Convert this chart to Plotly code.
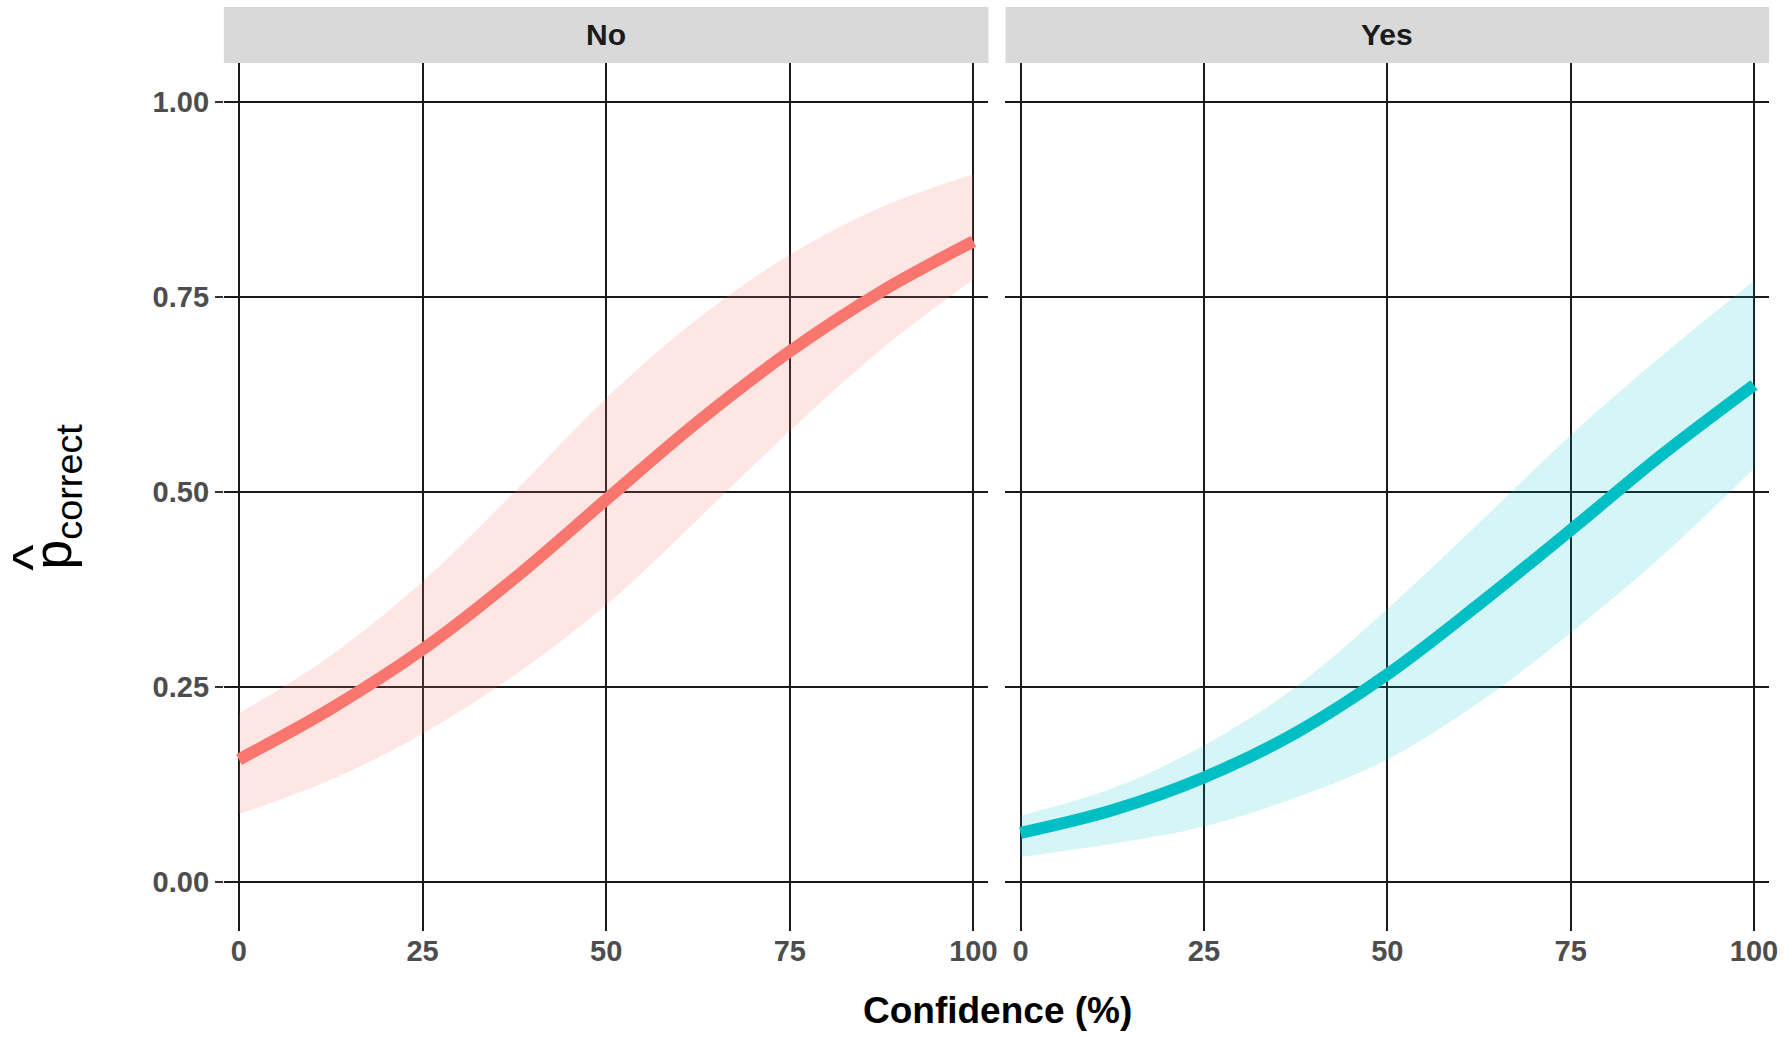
import plotly.graph_objects as go

# ---- data ----
confidence = [0, 12.5, 25, 37.5, 50, 62.5, 75, 87.5, 100]

no_fit = [0.157, 0.222, 0.298, 0.389, 0.490, 0.590, 0.680, 0.757, 0.821]
no_upper = [0.216, 0.290, 0.385, 0.500, 0.620, 0.722, 0.804, 0.865, 0.907]
no_lower = [0.087, 0.131, 0.190, 0.265, 0.355, 0.465, 0.578, 0.683, 0.772]

yes_fit = [0.063, 0.092, 0.134, 0.191, 0.266, 0.356, 0.451, 0.548, 0.637]
yes_upper = [0.085, 0.120, 0.175, 0.250, 0.350, 0.460, 0.573, 0.675, 0.771]
yes_lower = [0.032, 0.049, 0.071, 0.108, 0.157, 0.230, 0.319, 0.418, 0.530]

panels = ["No", "Yes"]
x_ticks = [0, 25, 50, 75, 100]
y_ticks = [0.0, 0.25, 0.5, 0.75, 1.0]
y_tick_labels = ["0.00", "0.25", "0.50", "0.75", "1.00"]

colors = {"No": "#F8766D", "Yes": "#00BFC4"}
ribbon = {"No": "rgba(248,118,109,0.18)", "Yes": "rgba(0,191,196,0.16)"}

W, H = 1792, 1037
FONT = "Liberation Sans, Arial, sans-serif"

fig = go.Figure()

series = {
    "No": (no_fit, no_lower, no_upper),
    "Yes": (yes_fit, yes_lower, yes_upper),
}

for i, p in enumerate(panels):
    xa = "x" if i == 0 else "x2"
    ya = "y" if i == 0 else "y2"
    fit, lo, up = series[p]
    fig.add_trace(go.Scatter(x=confidence, y=lo, mode="lines", line=dict(width=0, shape="spline", color=ribbon[p]),
                             xaxis=xa, yaxis=ya, showlegend=False, hoverinfo="skip"))
    fig.add_trace(go.Scatter(x=confidence, y=up, mode="lines", line=dict(width=0, shape="spline", color=ribbon[p]),
                             fill="tonexty", fillcolor=ribbon[p],
                             xaxis=xa, yaxis=ya, showlegend=False, hoverinfo="skip"))
    fig.add_trace(go.Scatter(x=confidence, y=fit, mode="lines", line=dict(width=12, shape="spline", color=colors[p]),
                             xaxis=xa, yaxis=ya, showlegend=False))

# geometry in page pixels
XS = 0.9942  # horizontal correction observed in rendering


def hx(v):
    return 225 + (v - 225) / XS


px1 = (225, hx(989))
px2 = (hx(1006), hx(1769))
top, bottom = 63, 923
tick_len = 8            # vertical grid lines run on below the panel like ggplot's tick marks
strip_top = 7
y0_px, y1_px = 882, 101.7   # pixel rows of y = 0 and y = 1
per_unit = y0_px - y1_px
y_lo = -(bottom + tick_len - y0_px) / per_unit
y_hi = 1 + (y1_px - top) / per_unit


def fx(v):
    return v / W


def fy(v):
    return 1 - v / H


grid = dict(showgrid=True, gridcolor="#1a1a1a", gridwidth=1.5, zeroline=False, showline=False)

tickfont = dict(family=FONT, size=29, color="#4d4d4d", weight="bold")
xcommon = dict(range=[-2.05, 102.05], tickvals=x_ticks, ticktext=[str(v) for v in x_ticks],
               ticks="", tickfont=tickfont, **grid)
ycommon = dict(range=[y_lo, y_hi], tickvals=y_ticks, **grid)

fig.update_layout(
    width=W, height=H,
    margin=dict(l=0, r=0, t=0, b=0),
    paper_bgcolor="white", plot_bgcolor="white",
    xaxis=dict(domain=[fx(px1[0]), fx(px1[1])], anchor="y", **xcommon),
    xaxis2=dict(domain=[fx(px2[0]), fx(px2[1])], anchor="y2", **xcommon),
    yaxis=dict(domain=[fy(bottom + tick_len), fy(top)], anchor="x", ticktext=y_tick_labels,
               ticks="outside", ticklen=8, tickwidth=2, tickcolor="#333333",
               tickfont=tickfont, **ycommon),
    yaxis2=dict(domain=[fy(bottom + tick_len), fy(top)], anchor="x2", showticklabels=False, ticks="", **ycommon),
)

shapes = []
annotations = []
for p, (a, b) in zip(panels, [px1, px2]):
    shapes.append(dict(type="rect", xref="paper", yref="paper", x0=fx(a), x1=fx(b),
                       y0=fy(top), y1=fy(strip_top), fillcolor="#d9d9d9", line=dict(width=0), layer="below"))
    annotations.append(dict(text=p, xref="paper", yref="paper", x=fx((a + b) / 2), y=fy((top + strip_top) / 2),
                            xanchor="center", yanchor="middle", showarrow=False,
                            font=dict(family=FONT, size=30, color="#1a1a1a", weight="bold")))

annotations.append(dict(text="Confidence (%)", xref="paper", yref="paper", x=fx(hx(998)), y=fy(1010),
                        xanchor="center", yanchor="middle", showarrow=False,
                        font=dict(family=FONT, size=37, color="black", weight="bold")))
annotations.append(dict(text="p<sub>correct</sub>", xref="paper", yref="paper", x=fx(56), y=fy(497),
                        xanchor="center", yanchor="middle", showarrow=False, textangle=-90,
                        font=dict(family=FONT, size=54, color="black")))
annotations.append(dict(text="^", xref="paper", yref="paper", x=fx(31), y=fy(558),
                        xanchor="center", yanchor="middle", showarrow=False, textangle=-90,
                        font=dict(family=FONT, size=56, color="black")))

fig.update_layout(shapes=shapes, annotations=annotations)

fig.write_html("out.html", config={"displayModeBar": False},
               post_script="document.body.style.margin='0';document.body.style.overflow='hidden';")
